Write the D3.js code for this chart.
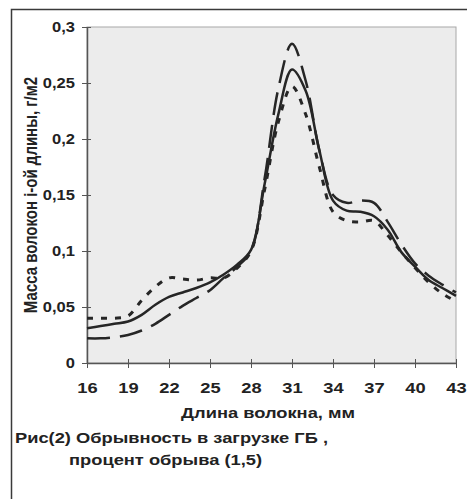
<!DOCTYPE html>
<meta charset="utf-8">
<style>
    body { margin: 0; background: #fff; }
    svg { display: block; font-family: "Liberation Sans", Arial, sans-serif; font-weight: bold; }
</style>
<body>
<svg width="467" height="499"></svg>
<script src="https://cdnjs.cloudflare.com/ajax/libs/d3/7.8.5/d3.min.js"></script>
<script>
    // fibre length, mm
    var lengths = [16, 17, 18, 19, 20, 21, 22, 23, 24, 25, 26, 27, 28, 29,
                   30, 31, 32, 33, 34, 35, 36, 37, 38, 39, 40, 41, 42, 43];
    // solid line
    var solidSeries = [0.031, 0.033, 0.035, 0.037, 0.043, 0.052, 0.059, 0.063, 0.067, 0.072, 0.079, 0.088, 0.101, 0.160,
                       0.222, 0.262, 0.243, 0.190, 0.145, 0.136, 0.135, 0.131, 0.119, 0.099, 0.086, 0.074, 0.067, 0.060];
    // short dash line
    var shortDashSeries = [0.040, 0.040, 0.040, 0.042, 0.056, 0.068, 0.076, 0.075, 0.074, 0.076, 0.076, 0.085, 0.100, 0.155,
                           0.215, 0.247, 0.222, 0.175, 0.135, 0.127, 0.126, 0.127, 0.114, 0.099, 0.085, 0.072, 0.062, 0.055];
    // long dash line
    var longDashSeries = [0.022, 0.022, 0.023, 0.025, 0.029, 0.035, 0.043, 0.051, 0.058, 0.065, 0.076, 0.086, 0.100, 0.165,
                          0.245, 0.285, 0.252, 0.190, 0.150, 0.143, 0.145, 0.143, 0.126, 0.106, 0.089, 0.078, 0.070, 0.063];
    var xTicks = [16, 19, 22, 25, 28, 31, 34, 37, 40, 43];
    var yTicks = [0, 0.05, 0.1, 0.15, 0.2, 0.25, 0.3];

    var svg = d3.select("svg");
    var margin = { top: 27, right: 11, bottom: 136, left: 87 },
        width = 467 - margin.left - margin.right,
        height = 499 - margin.top - margin.bottom;

    var x = d3.scaleLinear().domain([16, 43]).range([0, width]),
        y = d3.scaleLinear().domain([0, 0.3]).range([height, 0]);

    var fmt = function (d) { return String(d).replace(".", ","); };
    var sx = 1.22; // the text in the original is drawn wide

    // outer frame
    svg.append("path")
        .attr("d", "M11.5,499 V9.5 H467")
        .attr("fill", "none")
        .attr("stroke", "#3a3a3a")
        .attr("stroke-width", 1.5);

    var g = svg.append("g")
        .attr("transform", "translate(" + margin.left + "," + margin.top + ")");

    g.append("rect")
        .attr("width", width)
        .attr("height", height)
        .attr("fill", "#ececec")
        .attr("stroke", "#a8a8a8")
        .attr("stroke-width", 1);

    // axes
    var xAxis = g.append("g")
        .attr("transform", "translate(0," + height + ")")
        .call(d3.axisBottom(x).tickValues(xTicks).tickSize(5).tickSizeOuter(0).tickPadding(14));
    xAxis.selectAll(".tick line").attr("y1", -4).attr("stroke", "#555");
    xAxis.select(".domain").attr("stroke", "#555").attr("stroke-width", 1.5);
    xAxis.selectAll(".tick text").attr("transform", "scale(" + sx + ",1)");

    var yAxis = g.append("g")
        .call(d3.axisLeft(y).tickValues(yTicks).tickFormat(fmt).tickSize(5).tickSizeOuter(0).tickPadding(6));
    yAxis.selectAll(".tick line").attr("x1", 4).attr("stroke", "#555");
    yAxis.select(".domain").attr("stroke", "#555").attr("stroke-width", 1.5);
    yAxis.selectAll(".tick text").attr("transform", "scale(1.1,1)");

    g.selectAll(".tick text")
        .attr("fill", "#222")
        .style("font-size", "15px")
        .style("font-family", "'Liberation Sans', Arial, sans-serif")
        .style("font-weight", "bold");

    // lines
    var line = d3.line()
        .x(function (d) { return x(d[0]); })
        .y(function (d) { return y(d[1]); })
        .curve(d3.curveCatmullRom.alpha(0.5));

    var series = [
        { values: shortDashSeries, dash: "6,8", w: 3 },
        { values: longDashSeries, dash: "23,10", w: 2.5 },
        { values: solidSeries, dash: null, w: 2.5 }
    ];

    g.selectAll(".series")
        .data(series)
        .enter().append("path")
        .attr("class", "series")
        .attr("fill", "none")
        .attr("stroke", "#262626")
        .attr("stroke-width", function (d) { return d.w; })
        .attr("stroke-dasharray", function (d) { return d.dash; })
        .attr("d", function (d) {
            return line(lengths.map(function (m, i) { return [m, d.values[i]]; }));
        });

    // titles
    function label(tx, ty, anchor, str, rot) {
        svg.append("text")
            .attr("transform", "translate(" + tx + "," + ty + ") scale(" + sx + ",1)" + (rot ? " rotate(" + rot + ")" : ""))
            .attr("text-anchor", anchor)
            .attr("fill", "#222")
            .style("font-size", "15px")
            .text(str);
    }

    label(37, 195, "middle", "Масса волокон i-ой длины, г/м2", -90);
    label(268, 418, "middle", "Длина волокна, мм");
    label(15, 443, "start", "Рис(2) Обрывность в загрузке ГБ ,");
    label(69, 465, "start", "процент обрыва (1,5)");
</script>
</body>
